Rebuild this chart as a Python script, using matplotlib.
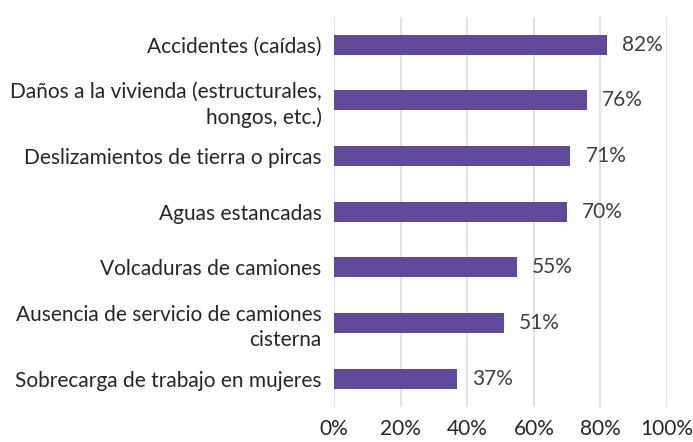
import matplotlib.pyplot as plt
import numpy as np

# data
categories = [
    "Accidentes (caídas)",
    "Daños a la vivienda (estructurales,\nhongos, etc.)",
    "Deslizamientos de tierra o pircas",
    "Aguas estancadas",
    "Volcaduras de camiones",
    "Ausencia de servicio de camiones\ncisterna",
    "Sobrecarga de trabajo en mujeres",
]
values = [82, 76, 71, 70, 55, 51, 37]
xticks = [0, 20, 40, 60, 80, 100]

plt.rcParams['font.family'] = ['Lato', 'DejaVu Sans']

def main():
    fig = plt.figure(figsize = (6.93, 4.42), dpi = 100)
    ax = fig.add_axes([0.482, 0.08, 0.4805, 0.882])

    y = np.arange(len(categories))
    ax.barh(y, values, height = 0.36, color = "#60499B", zorder = 3)

    for yi, v in zip(y, values):
        ax.text(v + 4.5, yi, f"{v}%", va = "center", ha = "left",
                fontsize = 15, color = "#404040")

    ax.set_yticks(y)
    ax.set_yticklabels(categories, fontsize = 15, color = "#262626", linespacing = 1.3)
    ax.set_ylim(len(categories) - 0.5, -0.5)

    ax.set_xlim(0, 100)
    ax.set_xticks(xticks)
    ax.set_xticklabels([f"{t}%" for t in xticks], fontsize = 15, color = "#262626")
    ax.xaxis.grid(True, color = "#DDDDDD", linewidth = 1.2, zorder = 0)
    ax.tick_params(axis = "x", length = 0, pad = 9)
    ax.tick_params(axis = "y", length = 0, pad = 9)

    for s in ax.spines.values():
        s.set_visible(False)

    for lbl in ax.get_yticklabels():
        lbl.set_horizontalalignment("right")
        lbl.set_multialignment("right")

    plt.savefig("out.png", dpi = 100)

if __name__ == "__main__":
    main()
